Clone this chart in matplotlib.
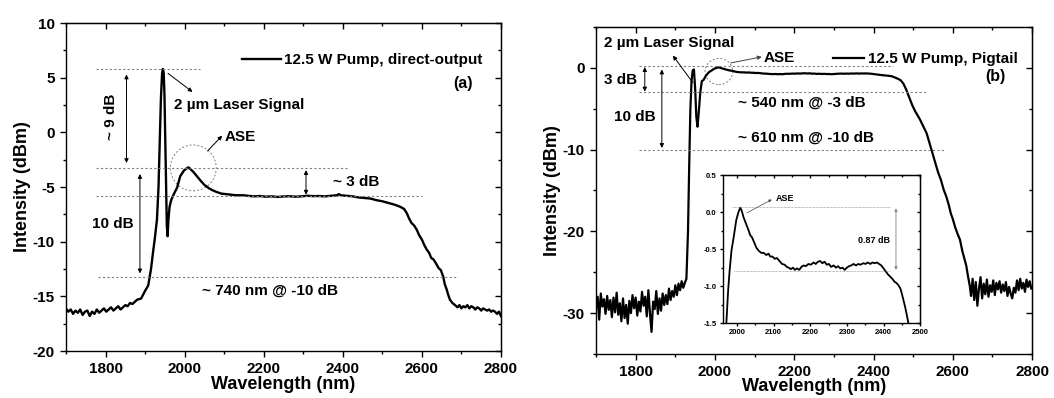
import numpy as np
import matplotlib
matplotlib.use('Agg')
import matplotlib.pyplot as plt
from matplotlib.patches import Ellipse

plt.rcParams['font.family'] = ['Liberation Sans', 'DejaVu Sans']
plt.rcParams['font.weight'] = 'bold'
plt.rcParams['axes.unicode_minus'] = False

# ---------------- panel (a): direct output ----------------
wl_a = [1700, 1706, 1712, 1718, 1724, 1730, 1736, 1742, 1748, 1754, 1760, 1766, 1772, 1778,
        1784, 1790, 1796, 1802, 1808, 1814, 1820, 1826, 1832, 1838, 1844, 1850, 1856, 1862,
        1868, 1874, 1880,
        1890, 1900, 1908, 1915, 1920, 1925, 1930, 1934, 1937, 1940, 1943, 1945, 1947, 1949,
        1951, 1953, 1955, 1957, 1959, 1962, 1966, 1972, 1981, 1989, 1998, 2005, 2010, 2016,
        2023, 2031, 2040, 2050, 2061, 2071, 2081, 2093, 2106, 2118, 2130, 2149,
        2160, 2175, 2190, 2205, 2220, 2235, 2250, 2265, 2280, 2295, 2310, 2325, 2340, 2355,
        2370, 2385, 2390, 2395, 2410, 2425, 2440, 2455, 2470, 2485, 2500, 2515, 2530, 2545,
        2555, 2562, 2568, 2574, 2580, 2587, 2593, 2600, 2606, 2612, 2618, 2624, 2629, 2636,
        2642, 2648, 2654, 2658, 2663, 2667, 2671, 2677, 2684,
        2690, 2695, 2700, 2705, 2710, 2715, 2720, 2725, 2730, 2735, 2740, 2745, 2750, 2755,
        2760, 2765, 2770, 2775, 2780, 2785, 2790, 2795, 2800]
int_a = [-16.1, -16.4, -16.2, -16.6, -16.3, -16.5, -16.2, -16.7, -16.4, -16.3, -16.8, -16.4,
         -16.6, -16.2, -16.5, -16.3, -16.1, -16.4, -16.2, -16.0, -16.3, -16.1, -15.9, -16.2,
         -16.0, -15.8, -15.9, -15.6, -15.7, -15.5, -15.3,
         -15.2, -14.5, -14.0, -12.5, -11.0, -9.6, -8.0, -5.0, -1.0, 3.0, 5.4, 5.8, 5.5, 3.5,
         -0.5, -5.0, -8.5, -9.5, -8.0, -6.8, -6.2, -5.7, -5.05, -4.0, -3.5, -3.3, -3.2, -3.4,
         -3.65, -4.0, -4.4, -4.8, -5.1, -5.3, -5.45, -5.6, -5.65, -5.7, -5.75, -5.75,
         -5.8, -5.85, -5.82, -5.88, -5.85, -5.9, -5.86, -5.84, -5.88, -5.85, -5.8, -5.83,
         -5.82, -5.85, -5.8, -5.75, -5.65, -5.75, -5.8, -5.85, -5.95, -6.0, -6.05, -6.2,
         -6.3, -6.45, -6.6, -6.8, -7.0, -7.4, -7.9, -8.3, -8.5, -8.9, -9.4, -9.8, -10.3,
         -10.7, -11.0, -11.5, -11.6, -12.0, -12.4, -12.6, -13.2, -13.9, -14.4, -14.9, -15.3,
         -15.6, -15.8,
         -16.0, -15.8, -16.1, -15.9, -16.0, -15.8, -16.1, -15.9, -16.0, -16.2, -16.0, -16.1,
         -16.3, -16.1, -16.2, -16.3, -16.2, -16.4, -16.3, -16.4, -16.6, -16.4, -16.8]

# ---------------- panel (b): pigtail ----------------
wl_b_left = [1700, 1704, 1708, 1712, 1716, 1720, 1724, 1728, 1732, 1736, 1740, 1744, 1748,
             1752, 1756, 1760, 1764, 1768, 1772, 1776, 1780, 1784, 1788, 1792, 1796, 1800,
             1804, 1808, 1812, 1816, 1820, 1824, 1828, 1832, 1836, 1840, 1844, 1848, 1852,
             1856, 1860, 1864, 1868, 1872, 1876, 1880, 1884, 1888, 1892, 1896, 1900, 1904,
             1908, 1912, 1916, 1920, 1924, 1928,
             1932, 1935, 1938, 1941, 1944, 1947, 1950, 1953, 1956, 1959, 1963, 1967]
int_b_left = [-29.5, -28.0, -30.8, -27.6, -29.2, -28.3, -30.1, -27.9, -29.6, -28.4, -30.5,
              -28.1, -29.9, -27.5, -30.2, -28.8, -31.0, -28.2, -30.6, -29.0, -31.3, -28.5,
              -30.0, -27.8, -29.4, -28.1, -30.3, -28.6, -29.8, -27.4, -29.1, -28.0, -30.4,
              -27.2, -30.0, -32.3, -28.6, -29.5, -27.3, -30.1, -28.2, -29.7, -27.6, -29.0,
              -27.8, -28.9, -27.0, -28.4, -27.3, -28.0, -26.6, -27.8, -26.4, -27.2, -26.1,
              -26.9, -26.3, -25.8,
              -20.0, -12.0, -5.0, -1.5, -0.3, -0.2, -2.5, -6.0, -7.2, -5.5, -3.0, -1.6]

# ASE region, also shown in the inset
wl_ase = [1971, 1976, 1980, 1985, 1991, 1998, 2004, 2009, 2013, 2018, 2025, 2032, 2036,
          2041, 2048, 2053, 2059, 2066, 2073, 2080, 2086, 2091, 2097, 2103, 2109, 2116,
          2123, 2130, 2136, 2141, 2147, 2153, 2158, 2164, 2170, 2176, 2182, 2188, 2195,
          2202, 2209, 2215, 2221, 2227, 2233, 2239, 2245, 2251, 2257, 2264, 2270, 2276,
          2282, 2288, 2294, 2300, 2306, 2312, 2318, 2325, 2331, 2337, 2345, 2351, 2357,
          2364, 2370, 2376, 2382, 2388, 2394, 2400, 2406, 2412, 2418, 2424, 2430, 2436,
          2441, 2446, 2450, 2455, 2459, 2464, 2468]
int_ase = [-1.5, -1.05, -0.79, -0.52, -0.34, -0.11, 0.0, 0.06, 0.02, -0.07, -0.16, -0.25,
           -0.31, -0.34, -0.42, -0.48, -0.52, -0.55, -0.55, -0.58, -0.56, -0.6, -0.6, -0.63,
           -0.62, -0.66, -0.7, -0.71, -0.74, -0.75, -0.77, -0.75, -0.78, -0.76, -0.78, -0.74,
           -0.72, -0.73, -0.7, -0.71, -0.68, -0.7, -0.67, -0.66, -0.69, -0.67, -0.71, -0.7,
           -0.74, -0.72, -0.75, -0.73, -0.76, -0.75, -0.78, -0.75, -0.73, -0.72, -0.7, -0.72,
           -0.7, -0.71, -0.69, -0.7, -0.68, -0.7, -0.68, -0.69, -0.68, -0.7, -0.72, -0.76,
           -0.8, -0.84, -0.87, -0.9, -0.94, -0.96, -0.99, -1.03, -1.1, -1.2, -1.28, -1.4, -1.5]

wl_b_right = [2475, 2482, 2490, 2498, 2505, 2511, 2517, 2523, 2528, 2534, 2540, 2546, 2552,
              2558, 2563, 2570, 2577, 2584, 2590, 2595, 2600, 2606, 2612, 2618, 2624, 2630,
              2634, 2638, 2643,
              2646, 2650, 2654, 2658, 2662, 2666, 2670, 2674, 2678, 2682, 2686, 2690, 2694,
              2698, 2702, 2706, 2710, 2714, 2718, 2722, 2726, 2730, 2734, 2738, 2742, 2746,
              2750, 2754, 2758, 2762, 2766, 2770, 2774, 2778, 2782, 2786, 2790, 2794, 2798]
int_b_right = [-1.9, -2.6, -3.6, -4.6, -5.3, -5.8, -6.3, -6.9, -7.4, -8.0, -9.0, -10.0,
               -11.0, -12.0, -12.8, -13.7, -14.9, -15.8, -16.8, -17.8, -18.5, -19.5, -20.3,
               -21.0, -22.4, -23.5, -24.2, -25.4, -26.7,
               -27.9, -25.8, -28.4, -26.2, -29.1, -27.0, -25.6, -28.2, -26.4, -27.7, -25.9,
               -28.0, -26.6, -27.4, -26.0, -27.8, -26.3, -27.1, -26.1, -27.5, -26.5, -27.3,
               -26.2, -27.9, -26.8, -27.6, -28.2, -26.9, -27.5, -26.0, -27.2, -25.8, -27.0,
               -26.3, -27.4, -25.9, -26.8, -26.1, -27.0]

wl_b = wl_b_left + wl_ase + wl_b_right
int_b = int_b_left + int_ase + int_b_right

fig = plt.figure(figsize=(10.54, 3.98), dpi=100)
ax1 = fig.add_axes([0.0626, 0.118, 0.4127, 0.824])
ax2 = fig.add_axes([0.5655, 0.1106, 0.4137, 0.8216])
axin = fig.add_axes([0.686, 0.188, 0.187, 0.372])

dot = dict(color='gray', lw=0.8, ls=(0, (2, 2)))
arr2 = dict(arrowstyle='<|-|>', color='black', lw=0.7, mutation_scale=6, shrinkA=0, shrinkB=0)
arr1 = dict(arrowstyle='-|>', color='black', lw=0.7, mutation_scale=6, shrinkA=0, shrinkB=0)


def style(ax, fs=11, major=4.5, minor=2.5):
    # left/bottom ticks outward, top/right ticks inward (Origin look)
    ax.tick_params(which='both', labelsize=fs, width=1, direction='out')
    ax.tick_params(which='major', length=major)
    ax.tick_params(which='minor', length=minor)
    for s in ax.spines.values():
        s.set_linewidth(1)
    for lab in ax.get_xticklabels() + ax.get_yticklabels():
        lab.set_fontweight('bold')
    top = ax.secondary_xaxis('top')
    top.set_xticks(ax.get_xticks())
    top.set_xticks(ax.get_xticks(minor=True), minor=True)
    top.tick_params(which='both', direction='in', labeltop=False, width=1)
    top.tick_params(which='major', length=major)
    top.tick_params(which='minor', length=minor)
    right = ax.secondary_yaxis('right')
    right.set_yticks(ax.get_yticks())
    right.set_yticks(ax.get_yticks(minor=True), minor=True)
    right.tick_params(which='both', direction='in', labelright=False, width=1)
    right.tick_params(which='major', length=major)
    right.tick_params(which='minor', length=minor)


# ---- panel (a)
ax1.plot(wl_a, int_a, color='black', lw=1.7, label='12.5 W Pump, direct-output')
ax1.set_xlim(1700, 2800)
ax1.set_ylim(-20, 10)
ax1.set_xticks([1800, 2000, 2200, 2400, 2600, 2800])
ax1.set_xticks(np.arange(1700, 2801, 100), minor=True)
ax1.set_yticks(np.arange(-20, 11, 5))
ax1.set_yticks(np.arange(-20, 10.1, 2.5), minor=True)
style(ax1)
ax1.set_xlabel('Wavelength (nm)', fontsize=13, fontweight='bold', labelpad=0)
ax1.set_ylabel('Intensity (dBm)', fontsize=13, fontweight='bold', labelpad=1)
ax1.legend(loc='upper right', bbox_to_anchor=(0.99, 0.95), frameon=False, handlelength=2.6,
           handletextpad=0.2, prop=dict(size=11, weight='bold'))

ax1.plot([1775, 2040], [5.8, 5.8], **dot)
ax1.plot([1775, 2414], [-3.3, -3.3], **dot)
ax1.plot([1775, 2600], [-5.85, -5.85], **dot)
ax1.plot([1780, 2692], [-13.2, -13.2], **dot)
ax1.annotate('', xy=(1853, 5.3), xytext=(1853, -2.8), arrowprops=arr2)
ax1.text(1815, 1.4, '~ 9 dB', rotation=90, ha='center', va='center', fontsize=11)
ax1.annotate('', xy=(2020, 3.7), xytext=(1958, 5.4), arrowprops=arr1)
ax1.text(1972, 2.5, '2 µm Laser Signal', ha='left', va='center', fontsize=11)
ax1.add_patch(Ellipse((2022, -3.25), 116, 4.2, fill=False, ec='gray', lw=0.7, ls=(0, (2, 2))))
ax1.annotate('', xy=(2095, -0.3), xytext=(2058, -1.7), arrowprops=arr1)
ax1.text(2100, -0.4, 'ASE', ha='left', va='center', fontsize=11)
ax1.annotate('', xy=(2307, -3.45), xytext=(2307, -5.7), arrowprops=arr2)
ax1.text(2376, -4.5, '~ 3 dB', ha='left', va='center', fontsize=11)
ax1.annotate('', xy=(1887, -3.8), xytext=(1887, -12.9), arrowprops=arr2)
ax1.text(1767, -8.4, '10 dB', ha='left', va='center', fontsize=11)
ax1.text(2215, -14.5, '~ 740 nm @ -10 dB', ha='center', va='center', fontsize=11)
ax1.text(2705, 4.5, '(a)', ha='center', va='center', fontsize=11.5)

# ---- panel (b)
ax2.plot(wl_b, int_b, color='black', lw=1.6, label='12.5 W Pump, Pigtail')
ax2.set_xlim(1700, 2800)
ax2.set_ylim(-35, 5)
ax2.set_xticks([1800, 2000, 2200, 2400, 2600, 2800])
ax2.set_xticks(np.arange(1700, 2801, 100), minor=True)
ax2.set_yticks([-30, -20, -10, 0])
ax2.set_yticks(np.arange(-35, 5.1, 5), minor=True)
style(ax2)
ax2.set_xlabel('Wavelength (nm)', fontsize=13, fontweight='bold', labelpad=-1)
ax2.set_ylabel('Intensity (dBm)', fontsize=13, fontweight='bold', labelpad=1)
ax2.legend(loc='upper right', bbox_to_anchor=(1.0, 0.965), frameon=False, handlelength=2.0,
           handletextpad=0.3, prop=dict(size=11, weight='bold'))

ax2.plot([1808, 2450], [0.25, 0.25], **dot)
ax2.plot([1808, 2534], [-3.0, -3.0], **dot)
ax2.plot([1808, 2580], [-10.0, -10.0], **dot)
ax2.annotate('', xy=(1823, 0.1), xytext=(1823, -2.9), arrowprops=arr2)
ax2.text(1719, -1.5, '3 dB', ha='left', va='center', fontsize=11)
ax2.annotate('', xy=(1866, -0.2), xytext=(1866, -9.8), arrowprops=arr2)
ax2.text(1745, -6.0, '10 dB', ha='left', va='center', fontsize=11)
ax2.text(1720, 3.0, '2 µm Laser Signal', ha='left', va='center', fontsize=11)
ax2.annotate('', xy=(1894, 1.5), xytext=(1944, -1.8), arrowprops=arr1)
ax2.add_patch(Ellipse((2010, -0.45), 70, 3.2, fill=False, ec='gray', lw=0.7, ls=(0, (2, 2))))
ax2.annotate('', xy=(2118, 1.35), xytext=(2040, 0.6), arrowprops=dict(arr1, color='#444444'))
ax2.text(2122, 1.2, 'ASE', ha='left', va='center', fontsize=11)
ax2.text(2058, -4.3, '~ 540 nm @ -3 dB', ha='left', va='center', fontsize=11)
ax2.text(2058, -8.6, '~ 610 nm @ -10 dB', ha='left', va='center', fontsize=11)
ax2.text(2708, -1.0, '(b)', ha='center', va='center', fontsize=11.5)

# ---- inset
axin.plot(wl_ase, int_ase, color='black', lw=1.3)
axin.set_xlim(1962, 2500)
axin.set_ylim(-1.5, 0.5)
axin.set_xticks([2000, 2100, 2200, 2300, 2400, 2500])
axin.set_xticks(np.arange(2000, 2501, 50), minor=True)
axin.set_yticks([-1.5, -1.0, -0.5, 0.0, 0.5])
axin.set_yticks(np.arange(-1.5, 0.51, 0.25), minor=True)
axin.yaxis.set_major_formatter(matplotlib.ticker.FormatStrFormatter('%.1f'))
style(axin, fs=5.5, major=2.5, minor=1.5)
axin.tick_params(which='both', pad=2)
axin.plot([1986, 2418], [0.07, 0.07], color='gray', lw=0.5, ls=(0, (1, 1)))
axin.plot([1991, 2418], [-0.8, -0.8], color='gray', lw=0.5, ls=(0, (1, 1)))
axin.annotate('', xy=(2434, 0.05), xytext=(2434, -0.78),
              arrowprops=dict(arrowstyle='<|-|>', color='gray', lw=0.6, mutation_scale=4,
                              shrinkA=0, shrinkB=0))
axin.text(2418, -0.38, '0.87 dB', ha='right', va='center', fontsize=6.5)
axin.annotate('', xy=(2095, 0.17), xytext=(2027, -0.01),
              arrowprops=dict(arrowstyle='-|>', color='#444444', lw=0.5, mutation_scale=4,
                              shrinkA=0, shrinkB=0))
axin.text(2105, 0.18, 'ASE', ha='left', va='center', fontsize=6.5)

fig.savefig('out.png', dpi=100)
